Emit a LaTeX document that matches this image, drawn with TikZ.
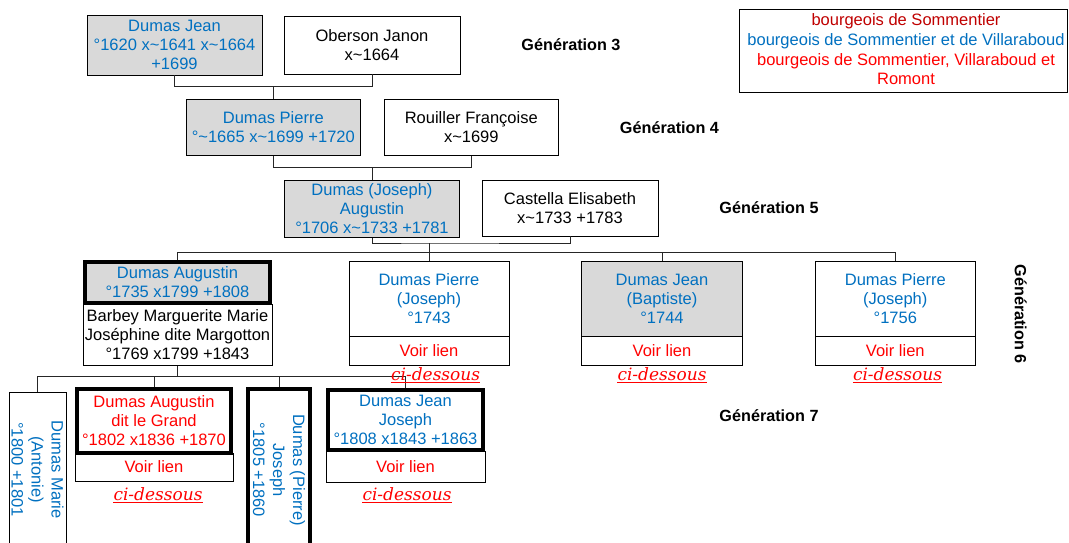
\documentclass[tikz,border=0pt]{standalone}
\usepackage{fontspec}
\usepackage{graphicx}
\setmainfont{Liberation Sans}
\newfontfamily\cdfont{DejaVu Serif}
\definecolor{tblue}{RGB}{0,112,192}
\definecolor{dred}{RGB}{192,0,0}
\definecolor{tred}{RGB}{255,0,0}
\definecolor{gfill}{RGB}{217,217,217}
\newcommand\tld{\textasciitilde}
\begin{document}
\begin{tikzpicture}[x=1pt,y=-1pt,
  every node/.style={inner sep=0pt, align=center, font=\fontsize{16.5}{19}\selectfont},
  pbox/.style={draw, line width=0.9pt},
  thickbox/.style={draw, line width=4pt},
  greyf/.style={fill=gfill},
  blu/.style={text=tblue},
  rd/.style={text=tred},
  link/.style={draw=black!85, line width=0.9pt},
  genlab/.style={font=\fontsize{16.2}{19}\selectfont\bfseries},
  cids/.style={text=tred, font=\fontsize{17}{19}\cdfont\itshape, anchor=base},
  uline/.style={draw=tred, line width=1.3pt},
  vtext/.style={rotate=-90, text=tblue, font=\fontsize{16.5}{20}\selectfont}
]
\clip (0,0) rectangle (1069,542);
\fill[white] (0,0) rectangle (1069,542);

% Generation 3
\node[pbox, greyf, blu, minimum width=175, minimum height=59.3] (dj) at (174.5,45.3) {Dumas Jean\\°1620 x\tld1641 x\tld1664\\+1699};
\node[pbox, minimum width=176, minimum height=58] (oj) at (372,45) {Oberson Janon\\x\tld1664};
% Generation 4
\node[pbox, greyf, blu, minimum width=174.5, minimum height=56.7] (dp) at (273.3,127.3) {Dumas Pierre\\°\tld1665 x\tld1699 +1720};
\node[pbox, minimum width=174.6, minimum height=56.7] (rf) at (471.3,127.3) {Rouiller Françoise\\x\tld1699};
% Generation 5
\node[pbox, greyf, blu, minimum width=175, minimum height=57.7] (au) at (372,208.8) {Dumas (Joseph)\\Augustin\\°1706 x\tld1733 +1781};
\node[pbox, minimum width=176, minimum height=56] (ce) at (570,208) {Castella Elisabeth\\x\tld1733 +1783};

% Generation 6
\node[pbox, minimum width=189, minimum height=61] (bb) at (177.5,335) {Barbey Marguerite Marie\\Joséphine dite Margotton\\°1769 x1799 +1843};
\node[thickbox, greyf, blu, minimum width=185, minimum height=41] (ga) at (177.5,282.5) {Dumas Augustin\\°1735 x1799 +1808};

\node[pbox, blu, minimum width=160, minimum height=75] (gb) at (429,298.5) {Dumas Pierre\\(Joseph)\\°1743};
\node[pbox, rd, minimum width=160, minimum height=29.7] (vb) at (429,350.85) {Voir lien};
\node[pbox, greyf, blu, minimum width=161, minimum height=75] (gc) at (662,298.5) {Dumas Jean\\(Baptiste)\\°1744};
\node[pbox, rd, minimum width=161, minimum height=29.7] (vc) at (662,350.85) {Voir lien};
\node[pbox, blu, minimum width=160.6, minimum height=75] (gd) at (895.3,298.5) {Dumas Pierre\\(Joseph)\\°1756};
\node[pbox, rd, minimum width=160.6, minimum height=29.7] (vd) at (895.3,350.85) {Voir lien};

% Generation 7
\node[pbox, minimum width=57, minimum height=208] (mr) at (37.5,496) {};
\node[vtext] (mrt) at (37.5,469.5) {Dumas Marie\\(Antonie)\\°1800 +1801};
\node[pbox, rd, minimum width=158, minimum height=28] (va) at (154,467) {Voir lien};
\node[thickbox, rd, minimum width=154, minimum height=64] (ha) at (154,421) {Dumas Augustin\\dit le Grand\\°1802 x1836 +1870};
\node[thickbox, minimum width=62, minimum height=211] (pj) at (279,494.5) {};
\node[vtext] (pjt) at (279,470) {Dumas (Pierre)\\Joseph\\°1805 +1860};
\node[pbox, rd, minimum width=159, minimum height=31] (vj) at (405.5,466.5) {Voir lien};
\node[thickbox, blu, minimum width=155, minimum height=60] (hj) at (405.5,420) {Dumas Jean\\Joseph\\°1808 x1843 +1863};

% connectors
\coordinate (m3) at (273.3,86.7);
\coordinate (m4) at (372,167.7);
\coordinate (m5) at (429,243);
\coordinate (b6) at (429,252.3);
\coordinate (b7) at (177.5,376.7);
\draw[link] (dj.south) |- (m3) -| (oj.south);
\draw[link] (m3) -- (dp.north);
\draw[link] (dp.south) |- (m4) -| (rf.south);
\draw[link] (m4) -- (au.north);
\draw[link] (au.south) |- (m5) -| (ce.south);
\draw[link] (m5) -- (gb.north);
\draw[link] (ga.north) |- (b6) -| (gd.north);
\draw[link] (gc.north) -- (gc.north |- b6);
\draw[link] (bb.south) -- (b7);
\draw[link] (mr.north) |- (b7) -| (hj.north);
\draw[link] (ha.north) -- (ha.north |- b7);
\draw[link] (pj.north) -- (pj.north |- b7);

% ci-dessous
\node[cids] (c1) at (435.6,380) {ci-dessous};
\node[cids] (c2) at (662,380) {ci-dessous};
\node[cids] (c3) at (897.5,380) {ci-dessous};
\node[cids] (c4) at (158,500) {ci-dessous};
\node[cids] (c5) at (407,500) {ci-dessous};
\foreach \c in {c1,c2,c3,c4,c5}{
  \draw[uline] ([yshift=-2.7pt]\c.base west) -- ([yshift=-2.7pt]\c.base east);
}

% generation labels
\node[genlab] (g3) at (571,45) {Génération 3};
\node[genlab] (g4) at (669.5,128) {Génération 4};
\node[genlab] (g5) at (769,208) {Génération 5};
\node[genlab, rotate=-90] (g6) at (1020.7,314) {Génération 6};
\node[genlab] (g7) at (769,416) {Génération 7};

% legend
\node[pbox, minimum width=328, minimum height=83] (lg) at (903,50.5) {};
\node[font=\fontsize{16.5}{19.7}\selectfont] (lgt) at (906,49.5) {\textcolor{dred}{bourgeois de Sommentier}\\\textcolor{tblue}{bourgeois de Sommentier et de Villaraboud}\\\textcolor{tred}{bourgeois de Sommentier, Villaraboud et}\\\textcolor{tred}{Romont}};
\end{tikzpicture}
\end{document}
